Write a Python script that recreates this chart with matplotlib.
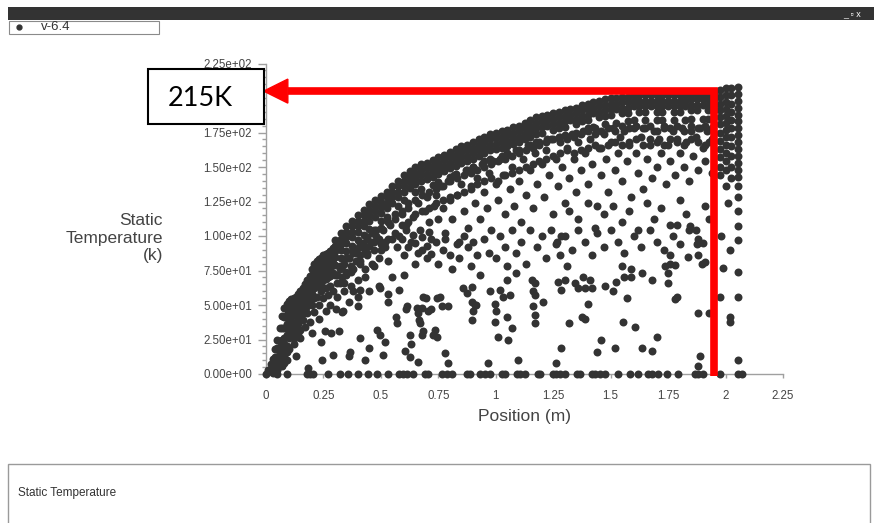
import numpy as np
import matplotlib.pyplot as plt
from matplotlib.patches import Rectangle, Polygon
from matplotlib.lines import Line2D
from matplotlib.ticker import MultipleLocator

plt.rcParams['font.family'] = ['Liberation Sans', 'DejaVu Sans']

nan = np.nan

# packed band of particles along the upper edge of the cloud
band_x = [0.01, 0.02, 0.03, 0.04, 0.05, 0.06, 0.07, 0.08, 0.09, 0.10,
          0.11, 0.12, 0.13, 0.14, 0.15, 0.16, 0.17, 0.18, 0.19, 0.20,
          0.21, 0.22, 0.23, 0.24, 0.25, 0.26, 0.27, 0.28, 0.29, 0.30,
          0.325, 0.35, 0.375, 0.40, 0.425, 0.45, 0.475, 0.50, 0.525, 0.55,
          0.575, 0.60, 0.625, 0.65, 0.675, 0.70, 0.725, 0.75, 0.775, 0.80,
          0.825, 0.85, 0.875, 0.90, 0.925, 0.95, 0.975, 1.00, 1.025, 1.05,
          1.075, 1.10, 1.125, 1.15, 1.175, 1.20, 1.225, 1.25, 1.275, 1.30,
          1.325, 1.35, 1.375, 1.40, 1.425, 1.45, 1.475, 1.50, 1.525, 1.55,
          1.575, 1.60, 1.625, 1.65, 1.675, 1.70, 1.725, 1.75, 1.775, 1.80,
          1.825, 1.85, 1.875, 1.90, 1.925, 1.95]
band_r0 = [3, 7, 11, 18, 25, 33, 42, 48, 51, 53,
           54, 55, 56, 58, 60, 62, 65, 68, 71, 76,
           80, 82, 83, 84, 86, 87, 88, 89, 91, 97,
           102, 107, 111, 115, 119, 123, 126, 129, 132, 136,
           140, 144, 147, 150, 152, 153, 155, 157, 159, 161,
           163, 165, 166, 168, 170, 172, 174, 175, 176, 177,
           179, 180, 182, 184, 186, 187, 188, 189, 190, 191,
           192, 193, 195, 196, 197, 198, 199, 200, 200, 201,
           201, 202, 202, 202, 202, 202, 202, 202, 202, 202,
           202, 203, 203, 203, 203, 203]
band_r1 = [nan, 2, 6, 12, 18, 24, 33, 41, 47, 49,
           50, 51, 52, 54, 56, 58, 61, 64, 67, 72,
           76, 78, 79, 80, 82, 83, 84, 85, 87, 93,
           98, 103, 107, 111, 115, 119, 122, 125, 128, 132,
           136, 140, 143, 146, 148, 149, 151, 153, 155, 157,
           159, 161, 162, 164, 166, 168, 170, 171, 172, 173,
           175, 176, 178, 180, 182, 183, 184, 185, 186, 187,
           188, 189, 191, 192, 193, 194, 195, 196, 196, 197,
           197, 198, 198, 198, 198, 198, 198, 198, 198, 198,
           198, 199, 199, 199, 199, 199]
band_r2 = [nan, nan, 3, 7, 12, 17, 25, 33, 43, 45,
           46, 47, 48, 50, 52, 54, 57, 60, 63, 68,
           72, 74, 75, 76, 78, 79, 80, 81, 83, 89,
           94, 99, 103, 107, 111, 115, 118, 121, 124, 128,
           132, 136, 139, 142, 144, 145, 147, 149, 151, 153,
           155, 157, 158, 160, 162, 164, 166, 167, 168, 169,
           171, 172, 174, 176, 178, 179, 180, 181, 182, 183,
           184, 185, 187, 188, 189, 190, 191, 192, 192, 193,
           193, 194, 194, 194, 194, 194, 194, 194, 194, 194,
           194, 195, 195, 195, 195, 195]
band_r3 = [nan, nan, 1, 4, 8, 12, 18, 26, 36, 40,
           42, 43, 44, 46, 48, 50, 53, 56, 59, 64,
           68, 70, 71, 72, 74, 75, 76, 77, 79, 85,
           90, 95, 99, 103, 107, 111, 114, 117, 120, 124,
           128, 132, 135, 138, 140, 141, 143, 145, 147, 149,
           151, 153, 154, 156, 158, 160, 162, 163, 164, 165,
           167, 168, 170, 172, 174, 175, nan, 177, 178, 179,
           nan, 181, 183, 184, nan, 186, 187, 188, nan, 189,
           189, nan, 190, 190, nan, 190, 190, nan, 190, 190,
           nan, 191, 191, nan, 191, 191]
band_r4 = [nan, nan, nan, nan, 3, 6, 10, 16, 28, 32,
           35, 37, 38, 40, 42, 44, 47, 50, 53, 58,
           62, 64, 65, 66, 68, 69, 70, 71, 73, 79,
           84, 89, 93, 97, 101, 105, nan, 111, 114, nan,
           122, 126, nan, 132, 134, nan, 137, 139, nan, 143,
           145, nan, 148, 150, nan, 154, 156, nan, 158, 159,
           nan, 162, nan, 166, 168, nan, 170, nan, 172, 173,
           nan, 175, nan, 178, 179, nan, 181, nan, 182, nan,
           183, 184, nan, 184, nan, 184, 184, nan, 184, nan,
           184, 185, nan, 185, 185, nan]

# second layer just under the band, two particles per station
under_x = [0.32, 0.35, 0.38, 0.41, 0.44, 0.47, 0.50, 0.53, 0.56, 0.59, 0.62, 0.65, 0.68, 0.71,
           0.74, 0.77, 0.80, 0.83, 0.86, 0.89, 0.92, 0.95, 0.98, 1.01, 1.04, 1.07, 1.10, 1.13,
           1.16, 1.19, 1.22, 1.25, 1.28, 1.31, 1.34, 1.37, 1.40, 1.43, 1.46, 1.49, 1.52, 1.55,
           1.58, 1.61, 1.64, 1.67, 1.70, 1.73, 1.76, 1.79, 1.82, 1.85, 1.88, 1.91, 1.94]
under_hi = [78, 84, 90, 94, 98, 104, 106, 110, 116, 118, 124, 126, 130, 132,
            134, 136, 140, 142, 144, 146, 148, 150, 152, 154, 156, 158, 160, 162,
            164, 166, 168, 170, 168, 170, 172, 174, 176, 174, 176, 178, 176, 180,
            178, 180, 178, 180, 176, 180, 178, 180, 176, 180, 178, 180, 178]
under_lo = [66, 72, 76, 82, 88, 90, 94, 98, 102, 108, 110, 116, 118, 120,
            124, 126, 128, 130, 132, 136, 138, 140, 142, 140, 144, 146, 148, 150,
            152, 154, 156, 158, 160, 162, 160, 162, 164, 166, 164, 166, 168, 166,
            168, 170, 166, 170, 168, 166, 170, 168, 166, 170, 168, 166, 170]

# looser particles under the band
speck = [(0.31, 72), (0.33, 78), (0.34, 66), (0.36, 84), (0.37, 74), (0.38, 60), (0.39, 88),
         (0.41, 80), (0.42, 92), (0.43, 70), (0.44, 86), (0.46, 96), (0.47, 78), (0.48, 100),
         (0.49, 64), (0.50, 90), (0.36, 52), (0.40, 56), (0.45, 60), (0.33, 45),
         (0.51, 104), (0.52, 96), (0.53, 82), (0.54, 108), (0.56, 112), (0.57, 92), (0.58, 100),
         (0.59, 116), (0.60, 86), (0.61, 108), (0.62, 120), (0.63, 96), (0.64, 114), (0.66, 124),
         (0.67, 104), (0.68, 90), (0.69, 118), (0.70, 128), (0.71, 110), (0.72, 98), (0.73, 122),
         (0.74, 130), (0.75, 112), (0.55, 70), (0.60, 72), (0.65, 80), (0.70, 84), (0.53, 58),
         (0.76, 136), (0.77, 120), (0.78, 102), (0.79, 140), (0.80, 126), (0.81, 112), (0.82, 144),
         (0.83, 130), (0.84, 96), (0.85, 138), (0.86, 118), (0.87, 148), (0.88, 106), (0.89, 134),
         (0.90, 150), (0.91, 124), (0.92, 142), (0.93, 112), (0.94, 152), (0.95, 132), (0.96, 120),
         (0.97, 146), (0.98, 104), (0.99, 154), (1.00, 138),
         (1.01, 126), (1.02, 156), (1.03, 144), (1.04, 116), (1.05, 160), (1.06, 134), (1.07, 150),
         (1.08, 122), (1.09, 162), (1.10, 140), (1.11, 110), (1.12, 156), (1.13, 130), (1.14, 166),
         (1.15, 148), (1.16, 120), (1.17, 160), (1.18, 138), (1.19, 168), (1.20, 152), (1.21, 128),
         (1.22, 162), (1.23, 144), (1.24, 170), (1.25, 116), (1.26, 156), (1.27, 136), (1.28, 172),
         (1.29, 150), (1.30, 124),
         (1.31, 164), (1.32, 142), (1.33, 174), (1.34, 156), (1.35, 132), (1.36, 168), (1.37, 148),
         (1.38, 176), (1.39, 160), (1.40, 138), (1.41, 170), (1.42, 152), (1.43, 178), (1.44, 122),
         (1.45, 164), (1.46, 144), (1.47, 174), (1.48, 156), (1.49, 132), (1.50, 168), (1.51, 178),
         (1.52, 148), (1.53, 160), (1.54, 172), (1.55, 140), (1.56, 176), (1.57, 154), (1.58, 166),
         (1.59, 128), (1.60, 178), (1.61, 160), (1.62, 146), (1.63, 172), (1.64, 134), (1.65, 178),
         (1.66, 156), (1.67, 166), (1.68, 142), (1.69, 176), (1.70, 150), (1.71, 170), (1.72, 160),
         (1.73, 178), (1.74, 138), (1.75, 166), (1.76, 154), (1.77, 176), (1.78, 144), (1.79, 170),
         (1.80, 160), (1.81, 178), (1.82, 150), (1.83, 168), (1.84, 140), (1.85, 176), (1.86, 158),
         (1.87, 172), (1.88, 148), (1.89, 178), (1.90, 164), (1.91, 154), (1.92, 176), (1.93, 168),
         (1.94, 146),
         (1.32, 118), (1.36, 112), (1.40, 124), (1.43, 106), (1.47, 116), (1.51, 122), (1.55, 110),
         (1.58, 118), (1.62, 104), (1.66, 124), (1.69, 112), (1.72, 120), (1.76, 108), (1.80, 126),
         (1.83, 116), (1.87, 104), (1.91, 122), (1.93, 112)]

# fill between the band and the sparse middle
fill = [(0.10, 26), (0.11, 30), (0.12, 31), (0.13, 27), (0.14, 36), (0.15, 32), (0.16, 39),
        (0.17, 34), (0.18, 44), (0.19, 38), (0.20, 50), (0.21, 45), (0.22, 56), (0.23, 50),
        (0.24, 60), (0.25, 55), (0.26, 62), (0.27, 57), (0.28, 64), (0.29, 60), (0.30, 72),
        (0.31, 66), (0.32, 76), (0.33, 70), (0.34, 80), (0.35, 74), (0.36, 84), (0.37, 78),
        (0.38, 88), (0.39, 82), (0.40, 91), (0.41, 86), (0.42, 95), (0.43, 89), (0.44, 99),
        (0.45, 93), (0.46, 102), (0.47, 96), (0.48, 104), (0.49, 98), (0.05, 12), (0.06, 18),
        (0.07, 22), (0.08, 8), (0.09, 16), (0.12, 22), (0.15, 26), (0.20, 30), (0.23, 40),
        (0.26, 46), (0.28, 50), (0.31, 56), (0.34, 60), (0.37, 64), (0.40, 68), (0.43, 76),
        (0.46, 80), (0.49, 84), (0.52, 92), (0.55, 98),
        (0.02, 3), (0.03, 6), (0.04, 9), (0.05, 5), (0.06, 9), (0.07, 6), (0.07, 14),
        (0.08, 14), (0.08, 22), (0.09, 20), (0.09, 34), (0.10, 36), (0.11, 38), (0.10, 18),
        (0.12, 26), (0.13, 33), (0.14, 30), (0.16, 44), (0.18, 49), (0.21, 55), (0.24, 64),
        (0.59, 98), (0.61, 104), (0.62, 92), (0.64, 101), (0.65, 95), (0.66, 88), (0.68, 99),
        (0.70, 93), (0.71, 103), (0.72, 87), (0.74, 96), (0.75, 80), (0.77, 90), (0.78, 98),
        (0.80, 86), (0.81, 76), (0.83, 94), (0.84, 84), (0.86, 100), (0.88, 92), (0.89, 78),
        (0.90, 96), (0.92, 86), (0.93, 72), (0.95, 98), (0.97, 88), (1.00, 84), (1.02, 100),
        (1.04, 92), (1.05, 78), (1.07, 104), (1.09, 88), (1.11, 96), (1.13, 80), (1.15, 104),
        (1.18, 92), (1.20, 100), (1.22, 84), (1.24, 104), (1.26, 94), (1.28, 86), (1.30, 100),
        (1.33, 90), (1.36, 104), (1.39, 96), (1.42, 86), (1.44, 102), (1.47, 92), (1.50, 104),
        (1.53, 96), (1.56, 88), (1.60, 100), (1.63, 92), (1.67, 104), (1.70, 96), (1.73, 90),
        (1.77, 100), (1.80, 94), (1.84, 104), (1.88, 98)]

# isolated particles in the lower part
sparse = [(0.047, 19), (0.09, 10), (0.13, 13), (0.183, 4), (0.245, 10), (0.29, 14), (0.24, 23),
          (0.255, 31), (0.285, 30), (0.317, 31), (0.335, 46), (0.305, 47), (0.365, 16), (0.36, 13),
          (0.41, 26), (0.43, 10), (0.45, 19), (0.485, 32), (0.495, 28), (0.52, 23), (0.51, 14),
          (0.53, 52), (0.565, 41), (0.57, 37), (0.625, 28), (0.63, 22), (0.66, 9), (0.665, 39),
          (0.68, 48), (0.725, 28), (0.735, 32), (0.695, 55), (0.745, 55), (0.61, 47), (0.58, 61),
          (0.495, 62), (0.40, 49), (0.41, 61),
          (0.605, 17), (0.627, 12), (0.677, 28), (0.683, 31), (0.67, 37), (0.662, 44), (0.655, 48),
          (0.612, 49), (0.743, 27), (0.72, 47), (0.705, 46), (0.765, 49), (0.79, 49), (0.757, 56),
          (0.683, 56), (0.778, 15), (0.79, 8), (0.873, 59), (0.895, 52), (0.908, 50), (0.90, 46),
          (0.895, 39), (0.915, 50), (0.857, 62), (0.895, 63), (0.975, 60), (0.995, 51), (1.003, 46),
          (0.995, 38), (1.008, 27), (1.052, 25), (1.018, 61), (1.03, 56), (1.047, 41), (1.07, 33),
          (1.047, 68), (1.06, 57), (1.097, 10), (0.966, 8), (1.09, 73), (1.156, 68), (1.17, 66),
          (1.16, 60), (1.17, 57), (1.205, 52), (1.16, 49), (1.17, 43), (1.17, 37), (1.264, 8),
          (1.27, 67),
          (1.265, 96), (1.286, 100), (1.308, 78), (1.286, 61), (1.30, 68), (1.286, 19), (1.32, 37),
          (1.345, 66), (1.358, 62), (1.38, 70), (1.39, 62), (1.41, 68), (1.40, 51), (1.374, 41),
          (1.39, 40), (1.42, 62), (1.46, 25), (1.44, 16), (1.475, 64), (1.51, 60), (1.525, 67),
          (1.56, 70), (1.57, 55), (1.59, 70), (1.59, 76), (1.548, 78), (1.553, 38), (1.605, 34),
          (1.52, 19), (1.635, 73), (1.635, 19), (1.68, 68), (1.68, 17), (1.70, 27), (1.736, 78),
          (1.75, 73), (1.758, 80), (1.78, 79), (1.75, 66), (1.78, 54), (1.787, 56), (1.758, 86),
          (1.837, 85), (1.88, 86), (1.896, 80), (1.91, 81), (1.88, 44), (1.89, 13), (1.88, 6),
          (1.88, 95), (1.90, 95), (1.787, 108), (1.845, 107), (1.874, 94), (1.93, 44)]

# particles collected near the outlet
column = [(1.975, 206), (1.975, 201), (1.975, 196), (1.975, 191), (1.975, 186), (1.975, 181),
          (1.975, 175), (1.975, 169), (1.975, 163), (1.975, 157), (1.975, 150), (1.975, 144),
          (2.00, 207), (2.00, 202), (2.00, 197), (2.00, 192), (2.00, 187), (2.00, 182),
          (2.00, 177), (2.00, 172), (2.00, 166), (2.00, 160), (2.00, 154), (2.00, 148),
          (2.00, 136), (2.025, 207), (2.025, 202), (2.025, 196), (2.025, 190), (2.025, 184),
          (2.025, 178), (2.025, 172), (2.025, 165), (2.025, 158), (2.025, 150), (2.025, 142),
          (2.055, 208), (2.055, 203), (2.055, 198), (2.055, 193), (2.055, 188), (2.055, 183),
          (2.055, 178), (2.055, 173), (2.055, 168), (2.055, 163), (2.055, 158), (2.055, 153),
          (2.055, 148), (2.055, 143), (2.055, 136), (2.055, 128), (2.055, 118), (2.055, 107),
          (2.055, 97), (2.055, 74), (2.055, 56), (2.055, 10), (2.02, 41), (2.02, 38),
          (2.01, 124), (2.02, 90), (1.98, 100), (1.99, 77), (1.976, 56)]

# particles sitting on the wall (T = 0)
zero_x = [0.0, 0.046, 0.09, 0.177, 0.191, 0.206, 0.271, 0.322, 0.358, 0.402, 0.445, 0.484,
          0.532, 0.58, 0.597, 0.612, 0.641, 0.692, 0.706, 0.764, 0.786, 0.808, 0.873, 0.887,
          0.931, 0.953, 0.975, 1.026, 1.04, 1.091, 1.105, 1.127, 1.185, 1.192, 1.25, 1.264,
          1.279, 1.301, 1.352, 1.366, 1.417, 1.431, 1.453, 1.475, 1.533, 1.584, 1.62, 1.664,
          1.679, 1.707, 1.744, 1.795, 1.867, 1.882, 1.904, 1.976, 2.055, 2.07]

x_ticks = [0, 0.25, 0.5, 0.75, 1, 1.25, 1.5, 1.75, 2, 2.25]
x_tick_labels = ['0', '0.25', '0.5', '0.75', '1', '1.25', '1.5', '1.75', '2', '2.25']
y_ticks = [0, 25, 50, 75, 100, 125, 150, 175, 200, 225]
y_tick_labels = ['0.00e+00', '2.50e+01', '5.00e+01', '7.50e+01', '1.00e+02',
                 '1.25e+02', '1.50e+02', '1.75e+02', '2.00e+02', '2.25e+02']

peak_x = 1.95
peak_level = 205
peak_label = '215K'

W, H = 874, 523
fig = plt.figure(figsize=(W / 100, H / 100), dpi=100)


def fx(px):
    return px / W


def fy(py):
    return 1 - py / H


ax = fig.add_axes([fx(266), fy(374), (783 - 266) / W, (374 - 63.5) / H])

dot = dict(s=33, color='#333333', linewidths=0, clip_on=False, zorder=3)
for row in (band_r0, band_r1, band_r2, band_r3, band_r4):
    ax.scatter(band_x, row, **dot)
ax.scatter(under_x, under_hi, **dot)
ax.scatter(under_x, under_lo, **dot)
for pts in (speck, fill, sparse, column):
    xs, ts = zip(*pts)
    ax.scatter(xs, ts, **dot)
ax.scatter(zero_x, np.zeros(len(zero_x)), **dot)

ax.set_xlim(0, 2.25)
ax.set_ylim(0, 225)
for side in ('top', 'right'):
    ax.spines[side].set_visible(False)
for side in ('left', 'bottom'):
    ax.spines[side].set_color('#a0a0a0')
    ax.spines[side].set_linewidth(1.0)
ax.set_xticks(x_ticks)
ax.set_xticklabels(x_tick_labels)
ax.set_yticks(y_ticks)
ax.set_yticklabels(y_tick_labels)
ax.yaxis.set_minor_locator(MultipleLocator(5))
ax.tick_params(axis='y', which='major', length=5.8, width=1, color='#a0a0a0',
               labelsize=8.3, labelcolor='#444444', pad=4.3)
ax.tick_params(axis='y', which='minor', length=2.9, width=1, color='#a0a0a0')
ax.tick_params(axis='x', which='major', length=2.9, width=1, color='#a0a0a0',
               labelsize=8.3, labelcolor='#444444', pad=8.4)
# the 2.00e+02 label sits under the callout box
ax.get_yticklabels()[8].set_visible(False)

fig.text(fx(163), fy(238), 'Static\nTemperature\n(k)', ha='right', va='center',
         fontsize=12.5, color='#444444', linespacing=1.22)
fig.text(fx(525), fy(417), 'Position (m)', ha='center', va='center',
         fontsize=12.5, color='#444444')

# red marker of the peak temperature
arrow_tip = -0.01
arrow_base = 0.095
ax.plot([arrow_base, peak_x, peak_x], [peak_level, peak_level, -1.5], color='#ff0000',
        lw=5.5, solid_joinstyle='miter', solid_capstyle='butt', clip_on=False, zorder=5)
ax.add_patch(Polygon([(arrow_tip, peak_level), (arrow_base, peak_level + 8.7),
                      (arrow_base, peak_level - 8.7)], closed=True, color='#ff0000',
                     clip_on=False, zorder=5))
fig.add_artist(Rectangle((fx(148.3), fy(123.5)), (264.3 - 148.3) / W, (123.5 - 69) / H,
                         transform=fig.transFigure, facecolor='white', edgecolor='black',
                         lw=1.5, zorder=6))
fig.text(fx(200), fy(99), peak_label, ha='center', va='center', fontsize=19.5,
         family=['Lato', 'DejaVu Sans'], color='black', zorder=7)

# window chrome: title bar, legend and the text panel
fig.add_artist(Rectangle((fx(8), fy(19.5)), 1 - fx(8), 12 / H, transform=fig.transFigure,
                         facecolor='#333333', edgecolor='none'))
fig.text(fx(852), fy(13.5), '_ ▫ x', ha='center', va='center', fontsize=6.5, color='white')
fig.add_artist(Rectangle((fx(9), fy(33.5)), 150 / W, 13 / H, transform=fig.transFigure,
                         facecolor='white', edgecolor='#8a8a8a', lw=0.8))
fig.add_artist(Line2D([fx(19)], [fy(27)], marker='o', ms=3.5, color='#333333',
                      transform=fig.transFigure))
fig.text(fx(41), fy(27.5), 'v-6.4', ha='left', va='center', fontsize=9.5, color='#333333')
fig.add_artist(Rectangle((fx(8), fy(530)), (870 - 8) / W, (530 - 463.5) / H,
                         transform=fig.transFigure, facecolor='white', edgecolor='#9a9a9a',
                         lw=1.0))
fig.text(fx(18), fy(493), 'Static Temperature', ha='left', va='center', fontsize=8.5,
         color='#333333')

fig.savefig('out.png', dpi=100)
